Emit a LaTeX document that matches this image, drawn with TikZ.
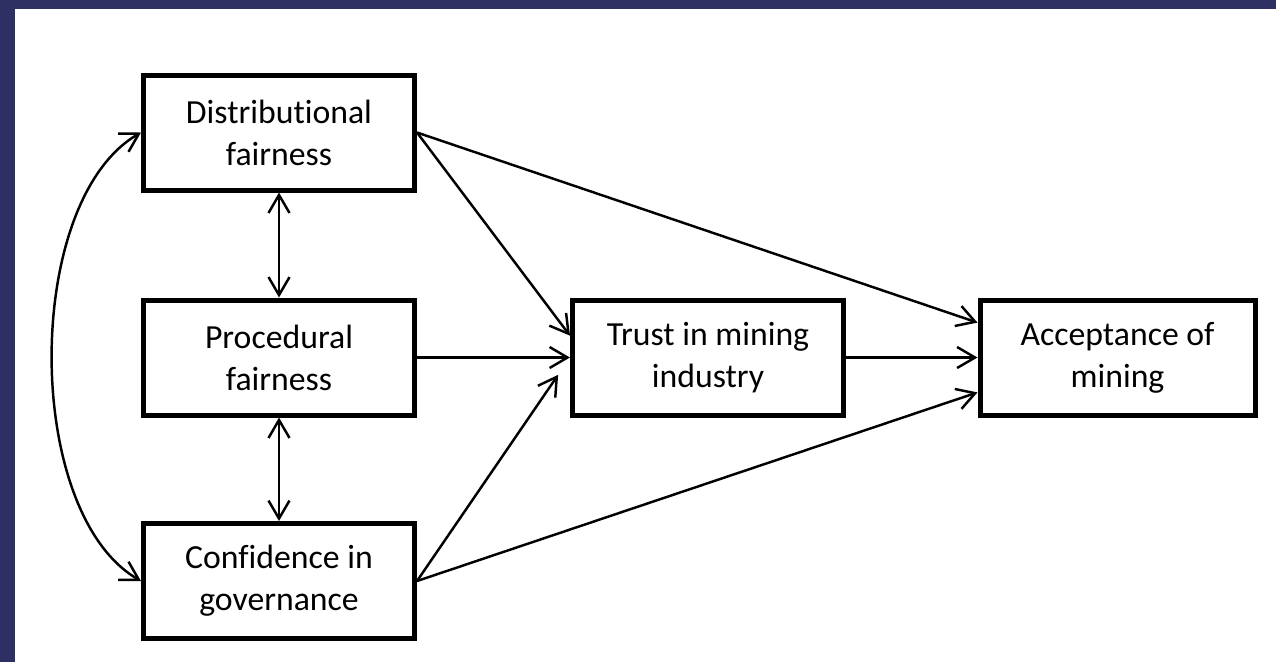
\documentclass[tikz,border=0pt]{standalone}
\usepackage{fontspec}
\setmainfont{Carlito}[Ligatures=NoCommon]
\usepackage{tikz}
\usetikzlibrary{arrows.meta,positioning,backgrounds,calc}
\definecolor{navy}{RGB}{46,47,98}

\begin{document}
\begin{tikzpicture}[->,>={Straight Barb[length=3.6mm,width=4.2mm]},line width=1.4pt,
   box/.style={draw, line width=2.85pt, fill=white, align=center,
     minimum width=5.42cm, minimum height=2.3cm,
     font=\fontsize{19.2}{24}\selectfont}]
  % frame of the slide
  \fill[navy] (0,0) rectangle (25.52,-13.24);
  \fill[white] (0.3,-0.18) rectangle (25.52,-13.24);
  \useasboundingbox (0,0) rectangle (25.52,-13.24);
  % the five constructs
  \node[box] (df) at (5.58, -2.65) {Distributional\\fairness};
  \node[box] (pf) at (5.58, -7.15) {Procedural\\fairness};
  \node[box] (cg) at (5.58, -11.62) {Confidence in\\governance};
  \node[box] (trust) at (14.16, -7.15) {Trust in mining\\industry};
  \node[box, minimum width=5.5cm] (accept) at (22.35, -7.15) {Acceptance of\\mining};
  % correlations
  \draw[<->] (df) -- (pf);
  \draw[<->] (pf) -- (cg);
  \draw[<->] (df.west) to[out=210, in=150, looseness=0.78] (cg.west);
  % paths to trust
  \draw (df.east) -- (trust.171);
  \draw (pf.east) -- (trust.west);
  \draw[shorten >=0.42cm] (cg.east) -- (trust.west);
  % paths to acceptance
  \draw (df.east) -- (accept.166);
  \draw (trust.east) -- (accept.west);
  \draw (cg.east) -- (accept.194);
\end{tikzpicture}
\end{document}
